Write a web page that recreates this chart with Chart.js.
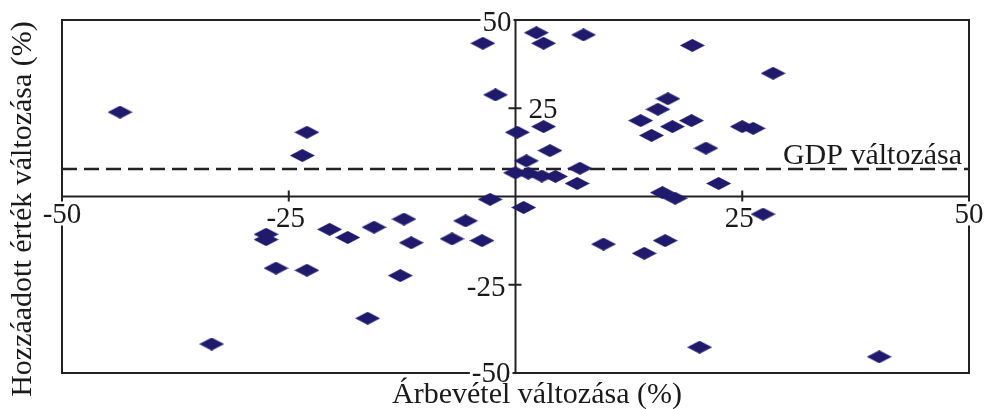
<!DOCTYPE html>
<html>
<head>
<meta charset="utf-8">
<script src="https://cdn.jsdelivr.net/npm/chart.js"></script>
<style>
  body { margin: 0; background: #fff; }
  #wrap { width: 986px; height: 409px; }
</style>
</head>
<body>
<div id="wrap"><canvas id="myChart"></canvas></div>
<script>
// data
const arbevetel = [-43.6, -23.0, -23.5, -3.6, 2.3, 3.1, 7.5, -2.2, 0.2, 3.1, 3.8, 1.2, 0.0, 1.4, 2.9, 4.4, 7.1, 6.8, -2.8, 0.9,
  19.5, 28.4, 16.8, 15.7, 13.8, 17.3, 19.4, 15.0, 25.0, 26.2, 21.0, 22.4, 16.2, 17.6, 27.3, 9.7, 14.2, 16.5, 20.3, 40.1,
  -27.5, -27.5, -26.4, -23.0, -20.5, -18.5, -15.6, -12.3, -11.5, -12.7, -16.3, -7.0, -5.5, -3.7, -33.5];
const hozzaadott = [23.9, 18.2, 11.6, 43.4, 46.4, 43.4, 45.8, 28.8, 18.2, 19.8, 13.0, 10.1, 6.7, 6.6, 5.8, 5.7, 8.0, 3.7, -0.8, -3.1,
  42.8, 34.9, 27.7, 24.7, 21.5, 19.8, 21.5, 17.3, 19.8, 19.3, 13.7, 3.7, 1.1, -0.5, -5.0, -13.5, -16.1, -12.5, -42.7, -45.4,
  -10.7, -12.2, -20.3, -20.9, -9.3, -11.6, -8.7, -6.4, -13.1, -22.4, -34.5, -12.0, -6.9, -12.5, -41.8];
const xTicks = [-50, -25, 25, 50];
const yTicks = [50, 25, -25, -50];
const gdpValtozas = 7.8;

const points = arbevetel.map((v, i) => ({ x: v, y: hozzaadott[i] }));

// flat diamond marker
const diamond = document.createElement('canvas');
diamond.width = 25;
diamond.height = 13;
const dc = diamond.getContext('2d');
dc.fillStyle = '#1f1a6b';
dc.beginPath();
dc.moveTo(0, 6.5);
dc.lineTo(12.5, 0);
dc.lineTo(25, 6.5);
dc.lineTo(12.5, 13);
dc.closePath();
dc.fill();

const FONT = "'Liberation Serif', 'Times New Roman', serif";
const INK = '#1a1a1a';

function line(ctx, x1, y1, x2, y2) {
  ctx.beginPath();
  ctx.moveTo(x1, y1);
  ctx.lineTo(x2, y2);
  ctx.stroke();
}

function label(ctx, text, x, y, align, bg) {
  ctx.textAlign = align;
  const w = ctx.measureText(text).width;
  if (bg) {
    let left = x - w / 2;
    if (align === 'right') left = x - w;
    if (align === 'left') left = x;
    ctx.fillStyle = '#fff';
    ctx.fillRect(left - 2, y - 21, w + 4, 24);
  }
  ctx.fillStyle = INK;
  ctx.fillText(text, x, y);
}

const axesPlugin = {
  id: 'axes',
  beforeDraw(chart) {
    const c = chart.ctx;
    c.save();
    c.fillStyle = '#fff';
    c.fillRect(0, 0, chart.width, chart.height);
    c.restore();
  },
  beforeDatasetsDraw(chart) {
    const c = chart.ctx;
    const a = chart.chartArea;
    const x = chart.scales.x, y = chart.scales.y;
    const x0 = x.getPixelForValue(0), y0 = y.getPixelForValue(0);
    c.save();
    c.strokeStyle = '#222';
    c.lineWidth = 2;
    c.strokeRect(a.left, a.top, a.right - a.left, a.bottom - a.top);
    line(c, a.left, y0, a.right, y0);
    line(c, x0, a.top, x0, a.bottom);
    xTicks.forEach(v => {
      if (Math.abs(v) < 50) {
        const p = x.getPixelForValue(v);
        line(c, p, y0 - 6, p, y0 + 5);
      }
    });
    yTicks.forEach(v => {
      if (Math.abs(v) < 50) {
        const p = y.getPixelForValue(v);
        line(c, x0 - 7, p, x0 + 6, p);
      }
    });

    // GDP line
    const gy = y.getPixelForValue(gdpValtozas);
    c.setLineDash([15, 7]);
    c.lineWidth = 2.5;
    line(c, a.left, gy, a.right, gy);
    c.setLineDash([]);

    c.font = '29px ' + FONT;
    c.textBaseline = 'alphabetic';
    xTicks.forEach(v => {
      const p = x.getPixelForValue(v);
      const big = Math.abs(v) === 50;
      label(c, String(v), big ? p : p - 3, y0 + (big ? 26 : 30), 'center', big);
    });
    yTicks.forEach(v => {
      const p = y.getPixelForValue(v);
      if (v === 50) label(c, '50', x0 - 4, p + 11, 'right', true);
      if (v === 25) label(c, '25', x0 + 13, p + 10, 'left', false);
      if (v === -25) label(c, '-25', x0 - 10, p + 11, 'right', false);
      if (v === -50) label(c, '-50', x0 - 5, p + 9, 'right', true);
    });

    c.font = '30px ' + FONT;
    label(c, 'GDP változása', a.right - 7, gy - 5, 'right', false);

    // axis titles
    c.fillStyle = INK;
    c.textAlign = 'center';
    c.fillText('Árbevétel változása (%)', 537, 403);
    c.translate(31, 209);
    c.rotate(-Math.PI / 2);
    c.fillText('Hozzáadott érték változása (%)', 0, 0);
    c.restore();
  }
};

new Chart(document.getElementById('myChart'), {
  type: 'scatter',
  data: {
    datasets: [{
      label: 'Vállalatok',
      data: points,
      pointStyle: diamond,
      pointRadius: 12,
      pointHoverRadius: 12,
      backgroundColor: '#1f1a6b',
      borderColor: '#1f1a6b'
    }]
  },
  options: {
    responsive: true,
    maintainAspectRatio: false,
    animation: false,
    layout: { padding: { left: 62, right: 17, top: 20, bottom: 36 } },
    plugins: {
      legend: { display: false },
      tooltip: { enabled: false }
    },
    scales: {
      x: { type: 'linear', min: -50, max: 50, display: false },
      y: { type: 'linear', min: -50, max: 50, display: false }
    }
  },
  plugins: [axesPlugin]
});
</script>
</body>
</html>
